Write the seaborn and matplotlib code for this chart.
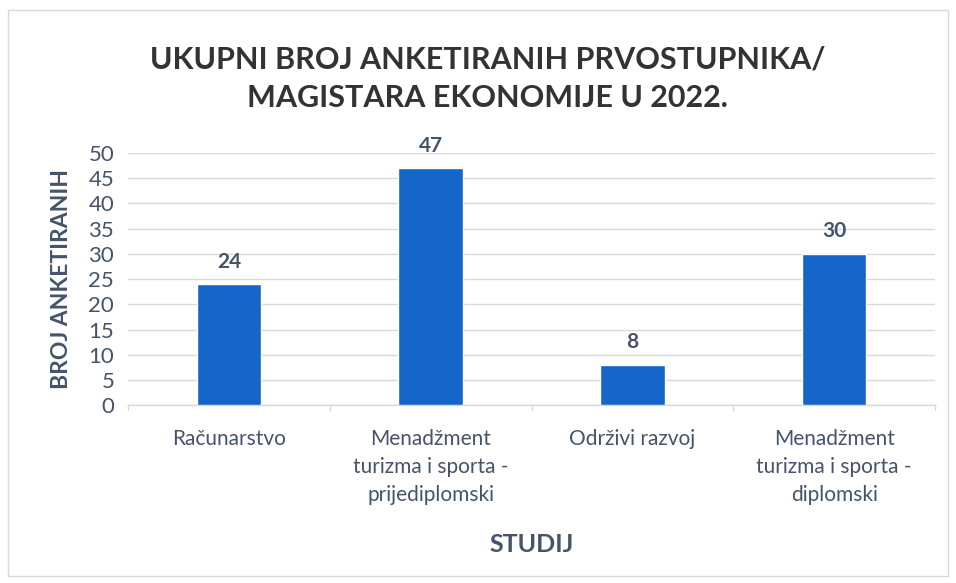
import pandas as pd
import seaborn as sns
import matplotlib.pyplot as plt
from matplotlib.patches import Rectangle

# Data
studij = ["Računarstvo",
          "Menadžment\nturizma i sporta -\nprijediplomski",
          "Održivi razvoj",
          "Menadžment\nturizma i sporta -\ndiplomski"]
broj = [24, 47, 8, 30]
yticks = list(range(0, 55, 5))

df = pd.DataFrame({"studij": studij, "broj": broj})

sns.set_theme(style="white")
plt.rcParams['font.family'] = ['Lato', 'DejaVu Sans']

text_col = "#44546A"
bar_col = "#1565C8"

fig = plt.figure(figsize=(9.56, 5.83), dpi=100)
ax = fig.add_axes([0.134, 0.305, 0.844, 0.4325])

sns.barplot(data=df, x="studij", y="broj", color=bar_col, width=0.32,
            saturation=1, ax=ax, zorder=3)

ax.set_ylim(0, 50)
ax.set_yticks(yticks)
ax.set_xlim(-0.5, len(studij) - 0.5)
ax.yaxis.grid(True, color="#D9D9D9", linewidth=1, zorder=0)
for s in ["top", "right", "left"]:
    ax.spines[s].set_visible(False)
ax.spines["bottom"].set_color("#D9D9D9")
ax.spines["bottom"].set_linewidth(1)

ax.tick_params(axis="y", labelsize=16, labelcolor=text_col, length=0, pad=10)
ax.tick_params(axis="x", labelsize=15, labelcolor=text_col, length=0, pad=17)
for lbl in ax.get_xticklabels():
    lbl.set_linespacing(1.5)

# small category separator ticks like the original
for b in range(len(studij) + 1):
    ax.plot([b - 0.5, b - 0.5], [0, -0.9], color="#D9D9D9", lw=1,
            clip_on=False, zorder=2)

for i, v in enumerate(broj):
    ax.text(i, v + 2.5, str(v), ha="center", va="bottom", fontsize=15,
            fontweight="bold", color=text_col)

ax.set_xlabel("STUDIJ", fontsize=18, fontweight="bold", color=text_col,
              labelpad=20)
ax.set_ylabel("BROJ ANKETIRANIH", fontsize=16.5, fontweight="bold",
              color=text_col, labelpad=12)

fig.text(0.51, 0.865, "UKUPNI BROJ ANKETIRANIH PRVOSTUPNIKA/\nMAGISTARA EKONOMIJE U 2022.",
         ha="center", va="center", fontsize=22, fontweight="bold",
         color="#333333", linespacing=1.45)

# light outer frame
fig.patches.append(Rectangle((0.008, 0.012), 0.984, 0.97, transform=fig.transFigure,
                             fill=False, edgecolor="#D9D9D9", linewidth=1))

fig.savefig("out.png", dpi=100)
